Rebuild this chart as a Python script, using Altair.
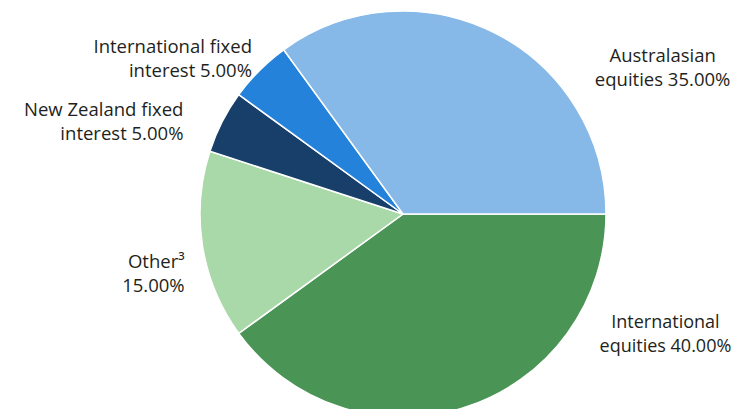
import math
import altair as alt
import pandas as pd

categories = ["International equities", "Other", "New Zealand fixed interest",
              "International fixed interest", "Australasian equities"]
values = [40.0, 15.0, 5.0, 5.0, 35.0]
labels = [["International", "equities 40.00%"],
          ["Other³", "15.00%"],
          ["New Zealand fixed", "interest 5.00%"],
          ["International fixed", "interest 5.00%"],
          ["Australasian", "equities 35.00%"]]
colors = ["#4a9556", "#a9d8a9", "#173f6a", "#2582db", "#86b8e8"]

df = pd.DataFrame({
    "category": categories,
    "value": values,
    "order": list(range(len(categories))),
    "label": labels,
})

CX, CY = 395, 206
R = 203
RL = 215

theta_scale = alt.Scale(domain=[0, 100], range=[math.pi / 2, math.pi / 2 + 2 * math.pi])

base = alt.Chart(df).transform_window(
    end="sum(value)", sort=[alt.SortField("order")], frame=[None, 0]
).transform_calculate(
    start="datum.end - datum.value",
    mid="datum.end - datum.value / 2",
)

arcs = base.mark_arc(radius=R, stroke="white", strokeWidth=1.5).encode(
    theta=alt.Theta("start:Q", scale=theta_scale),
    theta2="end:Q",
    color=alt.Color("category:N", scale=alt.Scale(domain=categories, range=colors), legend=None),
    x=alt.value(CX),
    y=alt.value(CY),
)

offsets = {
    "Australasian equities": ("center", 162, 34, 18.5),
    "International equities": ("center", 196, -95, 18),
    "International fixed interest": ("right", 1, -15, 18.5),
    "New Zealand fixed interest": ("right", -28, -6, 18.5),
    "Other": ("right", -6, 14, 18.5),
}

layers = [arcs]
for cat, (al, dx, dy, fs) in offsets.items():
    t = base.transform_filter(alt.datum.category == cat).mark_text(
        radius=RL, align=al, baseline="middle", dx=dx, dy=dy,
        font="Open Sans", fontSize=fs, lineHeight=24, color="#231f20",
    ).encode(
        theta=alt.Theta("mid:Q", scale=theta_scale),
        text="label",
        x=alt.value(CX),
        y=alt.value(CY),
    )
    layers.append(t)

chart = alt.layer(*layers).properties(
    width=729, height=401, padding=0,
    autosize=alt.AutoSizeParams(type="none"),
).configure_view(stroke=None)

chart.save("out.html", embed_options={"renderer": "svg", "actions": False})
